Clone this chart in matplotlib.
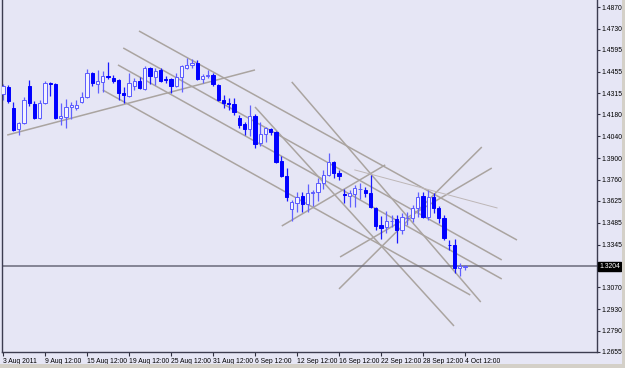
import numpy as np
import matplotlib
matplotlib.use("Agg")
import matplotlib.pyplot as plt
from matplotlib.patches import Rectangle

plt.rcParams['font.family'] = ['Liberation Sans', 'DejaVu Sans']

# EURUSD H12 bars, 3 Aug 2011 - 4 Oct 2011
opens = [1.4312, 1.4356, 1.4222, 1.4087, 1.4125, 1.4363, 1.4247, 1.4157, 1.4254, 1.4382,
         1.4376, 1.4157, 1.4164, 1.4228, 1.4222, 1.4260, 1.4292, 1.4446, 1.4376, 1.4389,
         1.4424, 1.4414, 1.4401, 1.4318, 1.4299, 1.4363, 1.4395, 1.4344, 1.4478, 1.4421,
         1.4466, 1.4408, 1.4408, 1.4363, 1.4421, 1.4478, 1.4498, 1.4511, 1.4408, 1.4427,
         1.4434, 1.4369, 1.4273, 1.4254, 1.4247, 1.4157, 1.4119, 1.4087, 1.4170, 1.3997,
         1.4055, 1.4087, 1.4068, 1.3881, 1.3785, 1.3573, 1.3612, 1.3657, 1.3605, 1.3676,
         1.3682, 1.3740, 1.3792, 1.3875, 1.3804, 1.3670, 1.3657, 1.3670, 1.3700, 1.3695,
         1.3676, 1.3580, 1.3471, 1.3458, 1.3494, 1.3509, 1.3438, 1.3513, 1.3515, 1.3580,
         1.3657, 1.3522, 1.3650, 1.3580, 1.3515, 1.3345, 1.3342, 1.3194, 1.3201]
highs = [1.4376, 1.4369, 1.4260, 1.4132, 1.4292, 1.4401, 1.4267, 1.4273, 1.4395, 1.4389,
         1.4382, 1.4254, 1.4279, 1.4260, 1.4273, 1.4324, 1.4472, 1.4453, 1.4466, 1.4459,
         1.4517, 1.4434, 1.4408, 1.4356, 1.4446, 1.4414, 1.4421, 1.4491, 1.4485, 1.4478,
         1.4478, 1.4427, 1.4414, 1.4446, 1.4498, 1.4543, 1.4536, 1.4530, 1.4440, 1.4466,
         1.4446, 1.4376, 1.4305, 1.4286, 1.4286, 1.4177, 1.4132, 1.4241, 1.4183, 1.4132,
         1.4100, 1.4093, 1.4074, 1.3914, 1.3836, 1.3631, 1.3682, 1.3682, 1.3734, 1.3695,
         1.3772, 1.3824, 1.3933, 1.3881, 1.3824, 1.3702, 1.3695, 1.3727, 1.3740, 1.3715,
         1.3792, 1.3586, 1.3528, 1.3560, 1.3535, 1.3535, 1.3548, 1.3554, 1.3599, 1.3682,
         1.3682, 1.3695, 1.3676, 1.3592, 1.3535, 1.3374, 1.3381, 1.3227, 1.3214]
lows = [1.4273, 1.4254, 1.4074, 1.4048, 1.4119, 1.4235, 1.4151, 1.4151, 1.4247, 1.4299,
        1.4151, 1.4113, 1.4093, 1.4151, 1.4209, 1.4254, 1.4286, 1.4363, 1.4318, 1.4324,
        1.4408, 1.4382, 1.4273, 1.4254, 1.4292, 1.4337, 1.4344, 1.4337, 1.4376, 1.4369,
        1.4389, 1.4382, 1.4318, 1.4356, 1.4324, 1.4472, 1.4478, 1.4401, 1.4382, 1.4414,
        1.4363, 1.4267, 1.4222, 1.4209, 1.4177, 1.4093, 1.4048, 1.4042, 1.3965, 1.3978,
        1.4003, 1.4048, 1.3869, 1.3779, 1.3625, 1.3496, 1.3554, 1.3554, 1.3554, 1.3592,
        1.3625, 1.3702, 1.3785, 1.3772, 1.3759, 1.3612, 1.3586, 1.3586, 1.3637, 1.3650,
        1.3580, 1.3438, 1.3381, 1.3419, 1.3458, 1.3355, 1.3413, 1.3471, 1.3490, 1.3522,
        1.3515, 1.3503, 1.3548, 1.3483, 1.3374, 1.3310, 1.3162, 1.3143, 1.3182]
closes = [1.4363, 1.4267, 1.4080, 1.4125, 1.4273, 1.4254, 1.4157, 1.4254, 1.4382, 1.4376,
          1.4157, 1.4170, 1.4228, 1.4241, 1.4241, 1.4292, 1.4446, 1.4382, 1.4395, 1.4427,
          1.4420, 1.4395, 1.4318, 1.4305, 1.4382, 1.4395, 1.4350, 1.4478, 1.4427, 1.4459,
          1.4395, 1.4401, 1.4363, 1.4421, 1.4491, 1.4498, 1.4511, 1.4408, 1.4427, 1.4434,
          1.4376, 1.4273, 1.4254, 1.4247, 1.4196, 1.4113, 1.4087, 1.4170, 1.3991, 1.4055,
          1.4093, 1.4068, 1.3875, 1.3785, 1.3650, 1.3618, 1.3650, 1.3605, 1.3676, 1.3682,
          1.3740, 1.3792, 1.3875, 1.3804, 1.3785, 1.3663, 1.3676, 1.3708, 1.3704, 1.3676,
          1.3586, 1.3464, 1.3451, 1.3496, 1.3498, 1.3438, 1.3522, 1.3517, 1.3580, 1.3650,
          1.3522, 1.3650, 1.3580, 1.3515, 1.3387, 1.3340, 1.3194, 1.3207, 1.3204]

date_labels = ["3 Aug 2011", "9 Aug 12:00", "15 Aug 12:00", "19 Aug 12:00", "25 Aug 12:00",
               "31 Aug 12:00", "6 Sep 12:00", "12 Sep 12:00", "16 Sep 12:00", "22 Sep 12:00",
               "28 Sep 12:00", "4 Oct 12:00"]
price_ticks = [1.4870, 1.4730, 1.4595, 1.4455, 1.4315, 1.4180, 1.4040, 1.3900, 1.3760,
               1.3625, 1.3485, 1.3345, 1.3070, 1.2930, 1.2790, 1.2655]
last_price = 1.3204

# trendlines drawn on the chart: (bar, price) -> (bar, price)
trendlines = [
    ((0.8, 1.4048), (48.0, 1.4466)),
    ((25.9, 1.4716), (97.9, 1.3374)),
    ((22.9, 1.4607), (95.0, 1.3246)),
    ((21.9, 1.4498), (95.0, 1.3124)),
    ((19.0, 1.4337), (89.0, 1.3021)),
    ((48.0, 1.4228), (85.9, 1.2822)),
    ((55.0, 1.4389), (91.0, 1.2976)),
    ((53.1, 1.3464), (72.8, 1.3856)),
    ((64.2, 1.3265), (93.1, 1.3836)),
    ((64.0, 1.3060), (91.2, 1.3971)),
]
thin_line = ((67.0, 1.3824), (94.1, 1.3580))

bg = '#e6e6f5'
fig = plt.figure(figsize=(6.25, 3.68), dpi=100, facecolor=bg)
ax = fig.add_axes([2/625, 16/368, 595/625, 352/368])
ax.set_facecolor(bg)

# trendlines
for (x0, y0), (x1, y1) in trendlines:
    ax.plot([x0, x1], [y0, y1], color='#aaa4a0', lw=1.1, zorder=1, solid_capstyle='butt')
ax.plot([thin_line[0][0], thin_line[1][0]], [thin_line[0][1], thin_line[1][1]],
        color='#bdb6b6', lw=0.7, zorder=1)

# current price line
ax.axhline(last_price, color='#6a6a7a', lw=1.1, zorder=1)

# candles
o = np.array(opens); h = np.array(highs); l = np.array(lows); c = np.array(closes)
idx = np.arange(len(o))
up = c >= o
ax.vlines(idx[up], l[up], h[up], color='#6060ff', lw=0.9, zorder=2)
ax.vlines(idx[~up], l[~up], h[~up], color='#1818ff', lw=0.9, zorder=2)
body_lo = np.minimum(o, c)
body_h = np.maximum(np.abs(c - o), 0.00025)
ax.bar(idx[up], body_h[up], bottom=body_lo[up], width=0.58, facecolor='#f2f2ff',
       edgecolor='#5a5aff', linewidth=0.7, zorder=3)
ax.bar(idx[~up], body_h[~up], bottom=body_lo[~up], width=0.58, facecolor='#0000ff',
       edgecolor='#0000ff', linewidth=0.7, zorder=3)

ax.set_xlim(-0.19, 113.14)
ax.set_ylim(1.4915 - 352 * 0.000642, 1.4915)

ax.set_xticks(np.arange(0, 8 * len(date_labels), 8))
ax.set_xticklabels(date_labels)
for lbl in ax.get_xticklabels():
    lbl.set_ha('left')
ax.tick_params(axis='x', length=3, width=0.8, pad=1, labelsize=4.9, color='#303040')

ax.yaxis.tick_right()
ax.set_yticks(price_ticks)
ax.set_yticklabels(['%.4f' % v for v in price_ticks])
ax.tick_params(axis='y', length=2, width=0.8, pad=1, labelsize=4.9, color='#303040')

for s in ['left', 'bottom', 'right']:
    ax.spines[s].set_color('#3c3c50')
    ax.spines[s].set_linewidth(1.0)
ax.spines['top'].set_visible(False)

ax.annotate('%.4f' % last_price, xy=(1.0, last_price), xycoords=('axes fraction', 'data'),
            xytext=(1.5, 0), textcoords='offset points', ha='left', va='center',
            fontsize=4.9, color='white',
            bbox=dict(boxstyle='square,pad=0.2', fc='black', ec='black'))

# window frame strips
fig.patches.append(Rectangle((0, 0), 1, 4/368, transform=fig.transFigure,
                             facecolor='#d4d0c8', edgecolor='none'))
fig.patches.append(Rectangle((622/625, 0), 3/625, 1, transform=fig.transFigure,
                             facecolor='#d4d0c8', edgecolor='none'))

fig.savefig('out.png', dpi=100, facecolor=bg)
